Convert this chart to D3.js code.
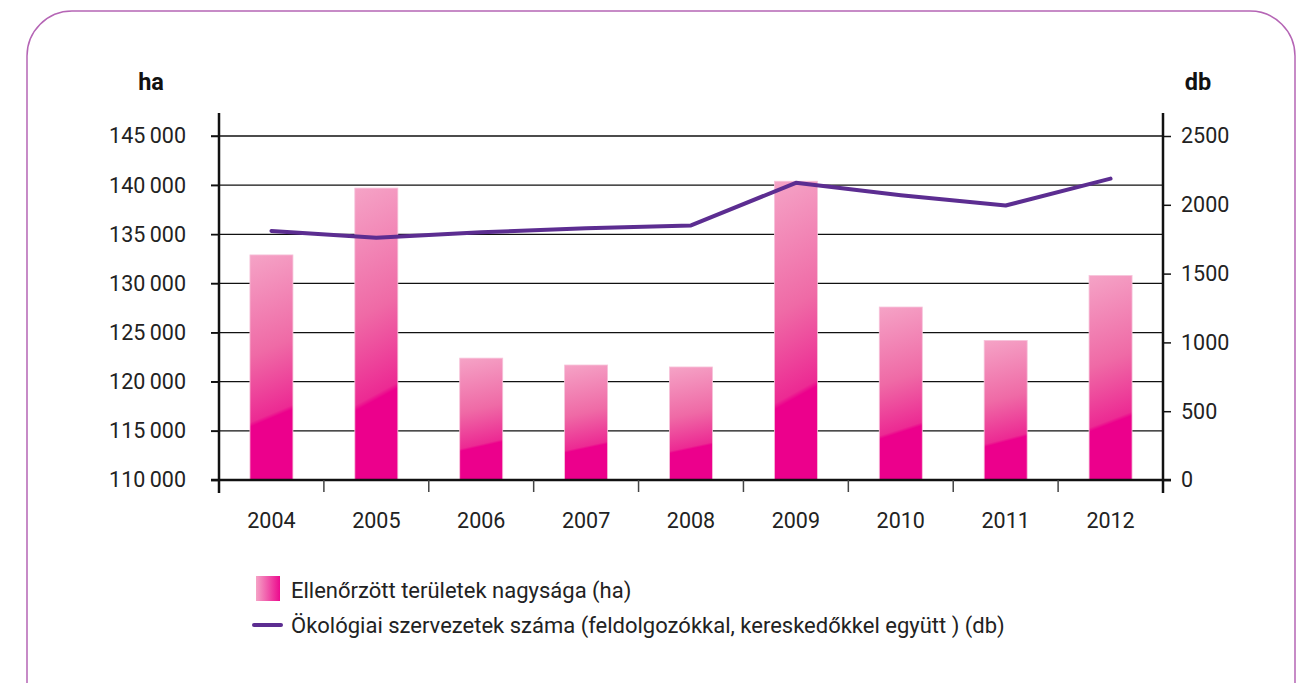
<!DOCTYPE html>
<html>
<head>
<meta charset="utf-8">
<script src="https://cdn.jsdelivr.net/npm/d3@7"></script>
<style>
  body { margin: 0; background: #fff; }
  svg { font-family: Roboto, "Open Sans", sans-serif; }
</style>
</head>
<body>
<svg id="chart" width="1300" height="683"></svg>
<script>
const years = ["2004", "2005", "2006", "2007", "2008", "2009", "2010", "2011", "2012"];
const areaHa = [132900, 139700, 122400, 121700, 121500, 140400, 127600, 124200, 130800];
const orgCount = [1810, 1760, 1800, 1830, 1850, 2160, 2070, 1995, 2190];
const leftTicks = [110000, 115000, 120000, 125000, 130000, 135000, 140000, 145000];
const rightTicks = [0, 500, 1000, 1500, 2000, 2500];
const legendLabels = [
    "Ellenőrzött területek nagysága (ha)",
    "Ökológiai szervezetek száma (feldolgozókkal, kereskedőkkel együtt ) (db)"
];

const svg = d3.select("#chart");
const plotLeft = 219, plotRight = 1163, plotTop = 136, plotBottom = 480;

const fmt = d3.formatLocale({ decimal: ",", thousands: "\u2009", grouping: [3], currency: ["", ""] }).format(",d");

const x = d3.scaleBand().domain(years).range([plotLeft, plotRight]).paddingInner(0.59).paddingOuter(0.295);
const yL = d3.scaleLinear().domain([110000, 145000]).range([plotBottom, plotTop]);
const yR = d3.scaleLinear().domain([0, 2500]).range([plotBottom, plotTop]);

// frame
svg.append("rect")
    .attr("x", 27).attr("y", 11)
    .attr("width", 1268).attr("height", 720)
    .attr("rx", 45).attr("ry", 45)
    .attr("fill", "none")
    .attr("stroke", "#b565b5")
    .attr("stroke-width", 1.5);

const defs = svg.append("defs");
const grad = defs.append("linearGradient")
    .attr("id", "barGrad").attr("x1", "0").attr("y1", "0").attr("x2", "0.08").attr("y2", "1");
grad.append("stop").attr("offset", "0%").attr("stop-color", "#f5a3c6");
grad.append("stop").attr("offset", "45%").attr("stop-color", "#ef6aa6");
grad.append("stop").attr("offset", "74%").attr("stop-color", "#ec2a93");
grad.append("stop").attr("offset", "76%").attr("stop-color", "#ec008c");
grad.append("stop").attr("offset", "100%").attr("stop-color", "#ec008c");

const lgrad = defs.append("linearGradient")
    .attr("id", "legGrad").attr("x1", "0").attr("y1", "0").attr("x2", "1").attr("y2", "0");
lgrad.append("stop").attr("offset", "0%").attr("stop-color", "#f5a3c6");
lgrad.append("stop").attr("offset", "100%").attr("stop-color", "#ec0a8e");

// gridlines
svg.append("g")
    .selectAll("line")
    .data(leftTicks.slice(1))
    .join("line")
    .attr("x1", plotLeft - 8).attr("x2", plotRight)
    .attr("y1", d => yL(d)).attr("y2", d => yL(d))
    .attr("stroke", "#111").attr("stroke-width", 1.3);

// bars
svg.append("g")
    .selectAll("rect")
    .data(years)
    .join("rect")
    .attr("x", d => x(d))
    .attr("width", x.bandwidth())
    .attr("y", (d, i) => yL(areaHa[i]))
    .attr("height", (d, i) => plotBottom - yL(areaHa[i]))
    .attr("fill", "url(#barGrad)")
    .attr("stroke", "#f7c3da")
    .attr("stroke-width", 0.8);

// left axis
const axL = svg.append("g")
    .attr("transform", `translate(${plotLeft},0)`)
    .call(d3.axisLeft(yL).tickValues(leftTicks).tickFormat(fmt).tickSize(8).tickPadding(25));
axL.select(".domain").remove();
axL.append("line").attr("x1", 0).attr("x2", 0).attr("y1", 113).attr("y2", 493)
    .attr("stroke", "#111").attr("stroke-width", 2.5);

// right axis
const axR = svg.append("g")
    .attr("transform", `translate(${plotRight},0)`)
    .call(d3.axisRight(yR).tickValues(rightTicks).tickFormat(d => d).tickSize(8).tickPadding(10));
axR.select(".domain").remove();
axR.append("line").attr("x1", 0).attr("x2", 0).attr("y1", 113).attr("y2", 493)
    .attr("stroke", "#111").attr("stroke-width", 2.5);

// x axis
svg.append("line").attr("x1", plotLeft - 8).attr("x2", plotRight + 8).attr("y1", plotBottom).attr("y2", plotBottom)
    .attr("stroke", "#111").attr("stroke-width", 2.5);
svg.append("g")
    .selectAll("line")
    .data(years.slice(1))
    .join("line")
    .attr("x1", d => x(d) - x.step() * x.paddingInner() / 2)
    .attr("x2", d => x(d) - x.step() * x.paddingInner() / 2)
    .attr("y1", plotBottom).attr("y2", plotBottom + 12)
    .attr("stroke", "#444").attr("stroke-width", 1.5);
svg.append("g")
    .selectAll("text")
    .data(years)
    .join("text")
    .attr("x", d => x(d) + x.bandwidth() / 2)
    .attr("y", 528)
    .attr("text-anchor", "middle")
    .attr("font-size", 21.5)
    .attr("fill", "#222")
    .text(d => d);

svg.selectAll(".tick line").attr("stroke", "#111").attr("stroke-width", 1.5);
svg.selectAll(".tick text").attr("font-size", 21.5).attr("fill", "#222").attr("font-family", "Roboto, sans-serif");

// line
const line = d3.line()
    .x((d, i) => x(years[i]) + x.bandwidth() / 2)
    .y(d => yR(d));
svg.append("path")
    .datum(orgCount)
    .attr("d", line)
    .attr("fill", "none")
    .attr("stroke", "#5c2d91")
    .attr("stroke-width", 4)
    .attr("stroke-linecap", "round")
    .attr("stroke-linejoin", "round");

// unit labels
svg.append("text").attr("x", 151).attr("y", 90).attr("text-anchor", "middle")
    .attr("font-size", 23.5).attr("font-weight", "bold").attr("fill", "#111").text("ha");
svg.append("text").attr("x", 1198).attr("y", 90).attr("text-anchor", "middle")
    .attr("font-size", 23.5).attr("font-weight", "bold").attr("fill", "#111").text("db");

// legend
svg.append("rect").attr("x", 256).attr("y", 576).attr("width", 24).attr("height", 25)
    .attr("fill", "url(#legGrad)");
svg.append("line").attr("x1", 254).attr("x2", 281).attr("y1", 625).attr("y2", 625)
    .attr("stroke", "#5c2d91").attr("stroke-width", 4).attr("stroke-linecap", "round");
svg.append("g")
    .selectAll("text")
    .data(legendLabels)
    .join("text")
    .attr("x", 291)
    .attr("y", (d, i) => 598 + i * 35)
    .attr("font-size", 22)
    .attr("fill", "#222")
    .text(d => d);
</script>
</body>
</html>
